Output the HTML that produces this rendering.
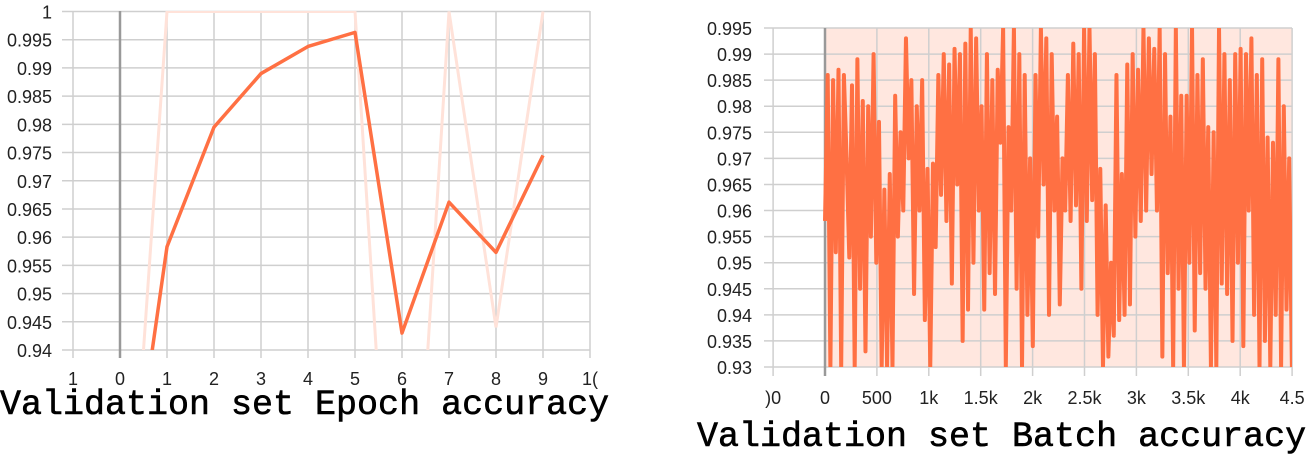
<!DOCTYPE html>
<html><head><meta charset="utf-8"><style>
html,body{margin:0;padding:0;background:#fff;width:1308px;height:474px;overflow:hidden}
svg{display:block;overflow:hidden}
.tk{font-family:"Liberation Sans",sans-serif;font-size:18px;fill:#222}
.ttl{font-family:"Liberation Mono",monospace;font-size:35px;fill:#000;stroke:#000;stroke-width:0.6}
</style></head><body>
<svg id="s" width="1308" height="474">
<defs>
<clipPath id="c1"><rect x="74" y="11" width="516" height="339"/></clipPath>
<clipPath id="c2"><rect x="774" y="28" width="518" height="339"/></clipPath>
</defs>
<g id="left"></g>
<g id="right"></g>
<text class="ttl" x="0" y="414">Validation set Epoch accuracy</text>
<text class="ttl" x="697" y="446">Validation set Batch accuracy</text>
</svg>
<script>
// Epoch chart data
const epochs = [0,1,2,3,4,5,6,7,8,9];
const epochSmoothed = [0.900,0.9583,0.9795,0.989,0.9938,0.9963,0.943,0.9662,0.9573,0.9745];
const epochRaw = [0.880,1.0,1.0,1.0,1.0,1.0,0.867,1.0,0.944,1.0];
const epochXTicks = [-1,0,1,2,3,4,5,6,7,8,9,10];
const epochXLabels = ["1","0","1","2","3","4","5","6","7","8","9","1("];
const epochYTicks = [0.94,0.945,0.95,0.955,0.96,0.965,0.97,0.975,0.98,0.985,0.99,0.995,1];
const epochYLabels = ["0.94","0.945","0.95","0.955","0.96","0.965","0.97","0.975","0.98","0.985","0.99","0.995","1"];

// Batch chart data
const batchStep = 26;
const batchValues = [0.958,0.986,0.93,0.985,0.952,0.987,0.93,0.986,0.97,0.951,0.984,0.93,0.989,0.945,0.981,0.933,0.98,0.955,0.99,0.95,0.977,0.93,0.964,0.93,0.967,0.93,0.982,0.955,0.975,0.96,0.993,0.97,0.985,0.944,0.98,0.96,0.985,0.939,0.968,0.93,0.969,0.953,0.986,0.963,0.99,0.958,0.988,0.946,0.991,0.965,0.99,0.935,0.992,0.941,0.995,0.95,0.993,0.96,0.98,0.941,0.99,0.948,0.985,0.944,0.987,0.973,0.995,0.93,0.976,0.96,0.995,0.945,0.99,0.93,0.986,0.94,0.97,0.934,0.986,0.955,0.995,0.965,0.993,0.94,0.99,0.96,0.978,0.942,0.97,0.96,0.986,0.958,0.992,0.961,0.99,0.945,0.995,0.958,0.995,0.962,0.99,0.94,0.968,0.93,0.961,0.932,0.95,0.936,0.986,0.939,0.967,0.94,0.988,0.942,0.99,0.955,0.987,0.958,0.995,0.96,0.993,0.967,0.991,0.96,0.995,0.932,0.99,0.948,0.978,0.93,0.995,0.945,0.982,0.93,0.982,0.95,0.995,0.937,0.986,0.948,0.989,0.945,0.976,0.93,0.975,0.93,0.995,0.946,0.99,0.944,0.985,0.935,0.99,0.95,0.991,0.934,0.99,0.96,0.993,0.94,0.986,0.93,0.989,0.935,0.974,0.93,0.973,0.94,0.989,0.93,0.98,0.941,0.97,0.93,0.961];
const batchXTicks = [-500,0,500,1000,1500,2000,2500,3000,3500,4000,4500];
const batchXLabels = [")0","0","500","1k","1.5k","2k","2.5k","3k","3.5k","4k","4.5"];
const batchYTicks = [0.93,0.935,0.94,0.945,0.95,0.955,0.96,0.965,0.97,0.975,0.98,0.985,0.99,0.995];
const batchYLabels = ["0.93","0.935","0.94","0.945","0.95","0.955","0.96","0.965","0.97","0.975","0.98","0.985","0.99","0.995"];

const NS="http://www.w3.org/2000/svg";
function mk(parent,tag,attrs){const e=document.createElementNS(NS,tag);for(const k in attrs)e.setAttribute(k,attrs[k]);parent.appendChild(e);return e;}

// Left chart axes
const lx = v => 120 + v*47;
const ly = v => 350 - (v-0.94)/0.06*338.5;
const L=document.getElementById('left');
epochYTicks.forEach((t,i)=>{
  const g=mk(L,'line',{x1:62,x2:590,y1:ly(t),y2:ly(t),stroke:'#cfcfcf','stroke-width':1.5});
  
  
  const tx=mk(L,'text',{x:52,y:ly(t)+7,'text-anchor':'end',class:'tk'});
  tx.textContent=epochYLabels[i];
  
  
});
epochXTicks.forEach((t,i)=>{
  const g=mk(L,'line',{x1:lx(t),x2:lx(t),y1:11,y2:358,stroke:t===0?'#999':'#cfcfcf','stroke-width':t===0?2.5:1.5});
  
  
  const tx=mk(L,'text',{x:lx(t),y:385,'text-anchor':'middle',class:'tk'});
  tx.textContent=epochXLabels[i];
  
  
});
const lc=mk(L,'g',{'clip-path':'url(#c1)'});
const rawL=mk(lc,'polyline',{points:epochs.map((e,i)=>lx(e)+','+ly(epochRaw[i])).join(' '),fill:'none',stroke:'#ffe2d9','stroke-width':3});


const smL=mk(lc,'polyline',{points:epochs.map((e,i)=>lx(e)+','+ly(epochSmoothed[i])).join(' '),fill:'none',stroke:'#ff7043','stroke-width':3.5,'stroke-linejoin':'round'});



// Right chart axes
const rx = v => 825 + v/500*51.9;
const ry = v => 367 - (v-0.93)/0.065*339;
const R=document.getElementById('right');
const rc=mk(R,'g',{'clip-path':'url(#c2)'});
const band=mk(rc,'rect',{x:rx(0),y:28,width:rx((batchValues.length-1)*batchStep)-rx(0),height:339,fill:'#ff7043','fill-opacity':0.17});


batchYTicks.forEach((t,i)=>{
  const g=mk(R,'line',{x1:764,x2:1292,y1:ry(t),y2:ry(t),stroke:'#cfcfcf','stroke-width':1.5});
  
  
  const tx=mk(R,'text',{x:752,y:ry(t)+7,'text-anchor':'end',class:'tk'});
  tx.textContent=batchYLabels[i];
  
  
});
batchXTicks.forEach((t,i)=>{
  const g=mk(R,'line',{x1:rx(t),x2:rx(t),y1:28,y2:376,stroke:t===0?'#999':'#cfcfcf','stroke-width':t===0?2.5:1.5});
  
  
  const tx=mk(R,'text',{x:rx(t),y:404,'text-anchor':'middle',class:'tk'});
  tx.textContent=batchXLabels[i];
  
  
});
const rc2=mk(R,'g',{'clip-path':'url(#c2)'});
const bl=mk(rc2,'polyline',{points:batchValues.map((v,i)=>rx(i*batchStep)+','+ry(v)).join(' '),fill:'none',stroke:'#ff7043','stroke-width':4,'stroke-linejoin':'round'});


</script>
</body></html>
